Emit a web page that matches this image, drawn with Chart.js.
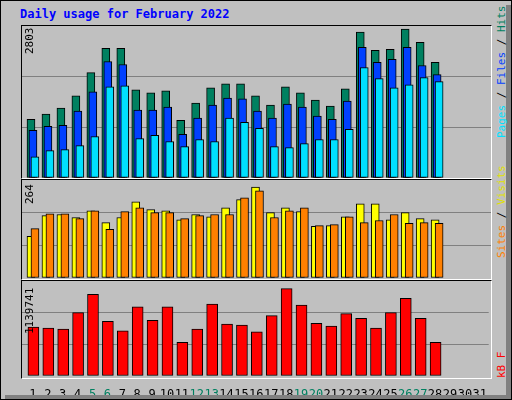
<!DOCTYPE html>
<html><head><meta charset="utf-8">
<script src="https://cdn.jsdelivr.net/npm/chart.js@4.4.0/dist/chart.umd.min.js"></script>
<style>
html,body{margin:0;padding:0;background:#fff;}
#frame{position:absolute;left:0;top:0;width:510px;height:398px;background:#c0c0c0;border:1px solid #000;overflow:hidden;font-family:"DejaVu Sans Mono",monospace;}
#shadowR{position:absolute;left:505px;top:4px;width:5px;height:394px;background:#808080;}
#shadowB{position:absolute;left:4px;top:394px;width:506px;height:4px;background:#808080;}
#title{position:absolute;left:19px;top:6px;font:bold 12px "DejaVu Sans Mono",monospace;color:#0000ff;}
.panel{position:absolute;left:20px;width:471px;box-sizing:border-box;border-top:1px solid #000;border-left:1px solid #000;border-right:1px solid #fff;border-bottom:1px solid #fff;}
.cv{position:absolute;}
.rot{position:absolute;font:11px "DejaVu Sans Mono",monospace;white-space:nowrap;transform-origin:0 0;transform:rotate(-90deg);}
</style></head><body>
<div id="frame">
<div id="shadowR"></div><div id="shadowB"></div>
<div id="title">Daily usage for February 2022</div>
<div class="panel" style="top:24px;height:154px"></div>
<div class="panel" style="top:178px;height:101px"></div>
<div class="panel" style="top:279px;height:99px"></div>
<div class="cv" style="left:21px;top:25px;width:469px;height:152px"><canvas id="c1"></canvas></div>
<div class="cv" style="left:21px;top:179px;width:469px;height:98px"><canvas id="c2"></canvas></div>
<div class="cv" style="left:21px;top:280px;width:469px;height:114px"><canvas id="c3"></canvas></div>
<div class="rot" style="left:22px;top:53px">2803</div>
<div class="rot" style="left:22px;top:203px">264</div>
<div class="rot" style="left:22px;top:333px">1139741</div>
<div class="rot" style="left:494px;top:137px"><span style="color:#00e0ff">Pages</span> / <span style="color:#0040ff">Files</span> / <span style="color:#008060">Hits</span></div>
<div class="rot" style="left:494px;top:257px"><span style="color:#ff8000">Sites</span> / <span style="color:#e0e000">Visits</span></div>
<div class="rot" style="left:494px;top:377px"><span style="color:#ff0000">kB F</span></div>
</div>
<script>
const days=[1,2,3,4,5,6,7,8,9,10,11,12,13,14,15,16,17,18,19,20,21,22,23,24,25,26,27,28];
const weekend=[5,6,12,13,19,20,26,27];
const hits=[1084,1178,1290,1514,1944,2392,2392,1626,1570,1607,1065,1383,1663,1738,1738,1514,1346,1682,1570,1439,1327,1645,2691,2355,2374,2747,2504,2131];
const files=[878,953,972,1234,1589,2149,2093,1252,1252,1308,804,1103,1346,1476,1458,1234,1103,1364,1308,1140,1084,1420,2411,2131,2187,2411,2075,1906];
const pages=[392,505,523,598,766,1682,1701,729,785,673,579,710,673,1103,1028,916,579,561,635,710,710,897,2037,1832,1663,1720,1850,1776];
const visits=[112,168,171,163,181,149,163,205,184,181,157,171,165,189,211,245,176,189,179,139,141,165,200,200,157,176,160,157];
const sites=[133,173,173,160,181,131,179,189,176,176,160,168,171,171,216,235,163,181,189,141,144,165,149,155,171,147,149,147];
const kbytes=[587,576,564,760,979,656,541,829,668,829,403,564,863,622,610,530,725,1048,852,633,599,748,691,576,760,933,691,403].map(v=>v*1000);
const maxPages=2803, maxSites=264, maxKB=1139741;
const XMIN=0.267, XMAX=31.6;
const pts=(arr,off)=>arr.map((v,i)=>({x:days[i]+off,y:v}));
function ds(arr,off,color,w,order){return {data:pts(arr,off),backgroundColor:color,borderColor:'#000',borderWidth:1,borderSkipped:false,barThickness:w,grouped:false,order:order};}
function opts(max,showX){
  return {responsive:true,maintainAspectRatio:false,animation:false,
    layout:{padding:0},
    plugins:{legend:{display:false},tooltip:{enabled:false}},
    scales:{
      x:{type:'linear',min:XMIN,max:XMAX,offset:false,display:showX,
        grid:{display:false},border:{display:false},
        ticks:{display:true,stepSize:1,includeBounds:false,autoSkip:false,maxRotation:0,padding:4,
          font:{family:'DejaVu Sans Mono',size:12},
          color:c=>weekend.includes(c.tick.value)?'#008060':'#000',
          callback:v=>Number.isInteger(v)&&v>=1&&v<=31?String(v):''},
        afterFit:a=>{if(showX)a.height=19;}},
      y:{min:0,max:max,display:true,
        grid:{drawTicks:false,color:c=>(c.index===1||c.index===2)?'#808080':'rgba(0,0,0,0)',lineWidth:1},
        border:{display:false},
        ticks:{display:false},
        afterBuildTicks:a=>{a.ticks=[0,max/3,2*max/3,max].map(v=>({value:v}));},
        afterFit:a=>{a.width=0;}}
    }};
}
new Chart(document.getElementById('c1'),{type:'bar',data:{datasets:[
  ds(pages,0.133,'#00e0ff',8,1),ds(files,0,'#0040ff',8,2),ds(hits,-0.133,'#008060',8,3)]},options:opts(maxPages,false)});
new Chart(document.getElementById('c2'),{type:'bar',data:{datasets:[
  ds(sites,0.133,'#ff8000',8,1),ds(visits,-0.133,'#ffff00',8,2)]},options:opts(maxSites,false)});
new Chart(document.getElementById('c3'),{type:'bar',data:{datasets:[
  ds(kbytes,0.033,'#ff0000',11,1)]},options:opts(maxKB,true)});
</script>
</body></html>
